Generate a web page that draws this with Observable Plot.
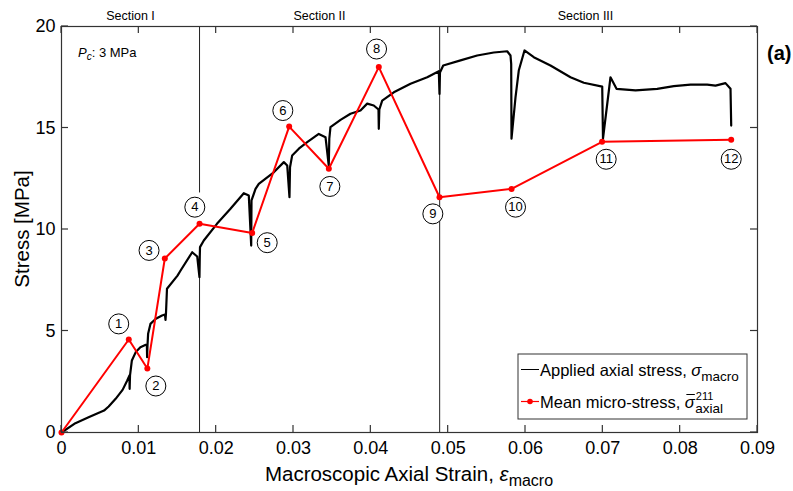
<!DOCTYPE html>
<html><head><meta charset="utf-8">
<script src="https://cdn.jsdelivr.net/npm/d3@7"></script>
<script src="https://cdn.jsdelivr.net/npm/@observablehq/plot@0.6"></script>
<style>
body{margin:0;background:#fff}
#chart svg{font-family:Arial,"Liberation Sans",sans-serif}
</style>
</head><body><div id="chart"></div>
<script>
// Applied axial stress (black curve)
const macroStrain = [
  0, 0.0018, 0.0035, 0.0055, 0.0061, 0.0070, 0.0079, 0.0085, 0.00879, 0.00881,
  0.00886, 0.0091, 0.0096, 0.0102, 0.0109, 0.01104, 0.01107, 0.01112, 0.0112, 0.0115,
  0.0122, 0.0130, 0.01338, 0.01345, 0.01351, 0.01364, 0.0150, 0.0154, 0.0169, 0.01755,
  0.01784, 0.01788, 0.01791, 0.0184, 0.0201, 0.02185, 0.02357, 0.02422, 0.02453, 0.02457,
  0.02509, 0.02551, 0.02745, 0.02875, 0.02919, 0.02948, 0.02955, 0.02983, 0.03069, 0.03177,
  0.03327, 0.03414, 0.03456, 0.03463, 0.03478, 0.03608, 0.03737, 0.03866, 0.03953, 0.04038,
  0.04099, 0.04103, 0.0411, 0.04147, 0.04297, 0.04513, 0.04729, 0.04879, 0.04888, 0.04894,
  0.04936, 0.0516, 0.05375, 0.0559, 0.05763, 0.05806, 0.05815, 0.05819, 0.05871, 0.05913,
  0.05987, 0.06107, 0.06323, 0.06582, 0.06754, 0.06992, 0.07002, 0.07099, 0.07177, 0.07423,
  0.07703, 0.07918, 0.08134, 0.08349, 0.08457, 0.08586, 0.08651, 0.0866
];
const macroStress = [
  0, 0.46, 0.75, 1.08, 1.28, 1.66, 2.10, 2.56, 2.81, 2.15,
  2.81, 3.55, 3.96, 4.20, 4.32, 4.29, 3.71, 4.29, 4.86, 5.35,
  5.60, 5.76, 5.81, 5.55, 5.86, 7.08, 7.73, 7.98, 8.88, 8.67,
  7.65, 8.67, 9.13, 9.46, 10.28, 11.02, 11.79, 11.67, 9.21, 11.43,
  12.00, 12.25, 12.82, 13.32, 13.15, 11.59, 13.07, 13.65, 13.98, 14.30,
  14.71, 14.55, 13.15, 14.47, 15.04, 15.40, 15.70, 15.86, 16.20, 16.11,
  15.91, 14.96, 15.91, 16.35, 16.76, 17.18, 17.50, 17.80, 16.68, 17.73,
  18.08, 18.33, 18.57, 18.72, 18.78, 18.57, 18.16, 14.47, 16.52, 17.83,
  18.82, 18.49, 18.08, 17.50, 17.23, 17.04, 14.48, 17.50, 16.93, 16.85,
  16.93, 17.06, 17.14, 17.14, 17.09, 17.21, 16.93, 15.12
];
// Mean micro-stress (red)
const microStrain = [0, 0.0087, 0.0111, 0.01336, 0.01785, 0.02466, 0.02944, 0.03457, 0.04103, 0.04888, 0.0582, 0.0699, 0.0866];
const microStress = [0, 4.58, 3.15, 8.57, 10.28, 9.83, 15.07, 12.99, 18.0, 11.59, 12.0, 14.32, 14.42];
// Circled point labels
const labelIds = ["1","2","3","4","5","6","7","8","9","10","11","12"];
const labelStrain = [0.0074, 0.01220, 0.01132, 0.01724, 0.02660, 0.02862, 0.03470, 0.04074, 0.04802, 0.05871, 0.07043, 0.08660];
const labelStress = [5.35, 2.29, 8.97, 11.10, 9.35, 15.86, 12.12, 18.89, 10.77, 11.10, 13.46, 13.46];
// Section boundaries
const boundaryStrain = [0.01785, 0.01785, 0.0489];
const boundaryFrom = [0, 11.8, 0];
const boundaryTo = [7.65, 20, 20];
const sectionNames = ["Section I", "Section II", "Section III"];
const sectionStrain = [0.00892, 0.03336, 0.06776];
// Ticks
const xTicks = [0, 0.01, 0.02, 0.03, 0.04, 0.05, 0.06, 0.07, 0.08, 0.09];
const yTicks = [0, 5, 10, 15, 20];

const macro = macroStrain.map((x, i) => ({x, y: macroStress[i]}));
const micro = microStrain.map((x, i) => ({x, y: microStress[i]}));
const labels = labelIds.map((t, i) => ({t, x: labelStrain[i], y: labelStress[i]}));
const bounds = boundaryStrain.map((x, i) => ({x, y1: boundaryFrom[i], y2: boundaryTo[i]}));
const sections = sectionNames.map((t, i) => ({t, x: sectionStrain[i]}));

const W = 793, H = 491, mL = 61, mR = 36, mT = 26, mB = 59;
const tk = 7;
const axisCol = "#333";

const plot = Plot.plot({
  width: W, height: H, marginLeft: mL, marginRight: mR, marginTop: mT, marginBottom: mB,
  style: {fontFamily: "Arial, 'Liberation Sans', sans-serif", background: "white", overflow: "visible"},
  x: {domain: [0, 0.09]},
  y: {domain: [0, 20]},
  marks: [
    Plot.ruleX(bounds, {x: "x", y1: "y1", y2: "y2", stroke: "#222", strokeWidth: 1}),
    Plot.line(macro, {x: "x", y: "y", stroke: "#000", strokeWidth: 2.2, strokeLinejoin: "round"}),
    Plot.line(micro, {x: "x", y: "y", stroke: "#f00", strokeWidth: 2}),
    Plot.dot(micro, {x: "x", y: "y", r: 3, fill: "#f00", stroke: null}),
    Plot.dot(labels, {x: "x", y: "y", r: 10, fill: "white", stroke: "#000", strokeWidth: 1}),
    Plot.text(labels, {x: "x", y: "y", text: "t", fontSize: 13, fill: "#000"}),
    Plot.text(sections, {x: "x", y: () => 20, text: "t", dy: -11, fontSize: 12.5, fill: "#000"}),
    Plot.frame({stroke: axisCol, strokeWidth: 1.2}),
    Plot.axisX(xTicks, {tickSize: 0, tickPadding: 9, fontSize: 18, label: null, tickFormat: d => String(d), fill: "#000"}),
    Plot.axisY(yTicks, {tickSize: 0, tickPadding: 6, fontSize: 18, label: null, tickFormat: d => String(d), fill: "#000"})
  ]
});
document.getElementById("chart").appendChild(plot);

const svg = d3.select(plot);
const sx = plot.scale("x"), sy = plot.scale("y");
const X = v => sx.apply(v), Y = v => sy.apply(v);
const x0 = X(0), x1 = X(0.09), y0 = Y(0), y1 = Y(20);

// inward ticks on all four sides
const tg = svg.append("g").attr("stroke", axisCol).attr("stroke-width", 1.2);
xTicks.forEach(v => {
  tg.append("line").attr("x1", X(v)).attr("x2", X(v)).attr("y1", y0).attr("y2", y0 - tk);
  tg.append("line").attr("x1", X(v)).attr("x2", X(v)).attr("y1", y1).attr("y2", y1 + tk);
});
yTicks.forEach(v => {
  tg.append("line").attr("x1", x0).attr("x2", x0 + tk).attr("y1", Y(v)).attr("y2", Y(v));
  tg.append("line").attr("x1", x1).attr("x2", x1 - tk).attr("y1", Y(v)).attr("y2", Y(v));
});

// Y title
svg.append("text")
  .attr("transform", `translate(22,${(y0 + y1) / 2}) rotate(-90)`)
  .attr("text-anchor", "middle").attr("dy", "0.35em")
  .style("font-size", "20.5px").attr("fill", "#000")
  .text("Stress [MPa]");

// X title
const xt = svg.append("text")
  .attr("x", (x0 + x1) / 2).attr("y", 481)
  .attr("text-anchor", "middle").style("font-size", "20.5px").attr("fill", "#000");
xt.append("tspan").text("Macroscopic Axial Strain, ");
xt.append("tspan").style("font-style", "italic").text("ε");
xt.append("tspan").attr("dy", 5).style("font-size", "16px").text("macro");

// Pc annotation
const pc = svg.append("text").attr("x", x0 + 17).attr("y", y1 + 31).attr("text-anchor", "start")
  .style("font-size", "13px").attr("fill", "#000");
pc.append("tspan").style("font-style", "italic").text("P");
pc.append("tspan").attr("dy", 3).style("font-size", "10px").style("font-style", "italic").text("c");
pc.append("tspan").attr("dy", -3).text(": 3 MPa");

// panel letter
svg.append("text").attr("x", x1 + 10).attr("y", y1 + 34).attr("text-anchor", "start")
  .style("font-size", "20px").style("font-weight", "bold").attr("fill", "#000").text("(a)");

// Legend
const lx0 = x1 - 239, lx1 = x1 - 10, ly0 = y0 - 78, ly1 = y0 - 13;
const lg = svg.append("g").attr("text-anchor", "start");
lg.append("rect").attr("x", lx0).attr("y", ly0).attr("width", lx1 - lx0).attr("height", ly1 - ly0)
  .attr("fill", "white").attr("stroke", "#333").attr("stroke-width", 1);
const r1 = ly0 + 15.5, r2 = ly0 + 47.5;
lg.append("line").attr("x1", lx0 + 3).attr("x2", lx0 + 21).attr("y1", r1).attr("y2", r1).attr("stroke", "#000").attr("stroke-width", 1);
const t1 = lg.append("text").attr("x", lx0 + 22).attr("y", r1 + 6).style("font-size", "16.5px").attr("fill", "#000");
t1.append("tspan").text("Applied axial stress, ");
t1.append("tspan").style("font-style", "italic").text("σ");
t1.append("tspan").attr("dy", 5).style("font-size", "13.5px").text("macro");
lg.append("line").attr("x1", lx0 + 3).attr("x2", lx0 + 21).attr("y1", r2).attr("y2", r2).attr("stroke", "#f00").attr("stroke-width", 1.2);
lg.append("circle").attr("cx", lx0 + 12).attr("cy", r2).attr("r", 2.8).attr("fill", "#f00");
const t2 = lg.append("text").attr("x", lx0 + 22).attr("y", r2 + 6).style("font-size", "16.5px").attr("fill", "#000");
t2.append("tspan").text("Mean micro-stress, ");
const sig = t2.append("tspan").style("font-style", "italic").text("σ");
const base = t2.node().getComputedTextLength();
const sigW = sig.node().getComputedTextLength();
// macron over sigma
lg.append("line").attr("x1", lx0 + 22 + base - sigW + 1.5).attr("x2", lx0 + 22 + base)
  .attr("y1", r2 - 7).attr("y2", r2 - 7).attr("stroke", "#000").attr("stroke-width", 1);
lg.append("text").attr("x", lx0 + 22 + base + 1).attr("y", r2 - 2).style("font-size", "11px").attr("fill", "#000").text("211");
lg.append("text").attr("x", lx0 + 22 + base + 0.5).attr("y", r2 + 11).style("font-size", "13.5px").attr("fill", "#000").text("axial");
</script>
</body></html>
